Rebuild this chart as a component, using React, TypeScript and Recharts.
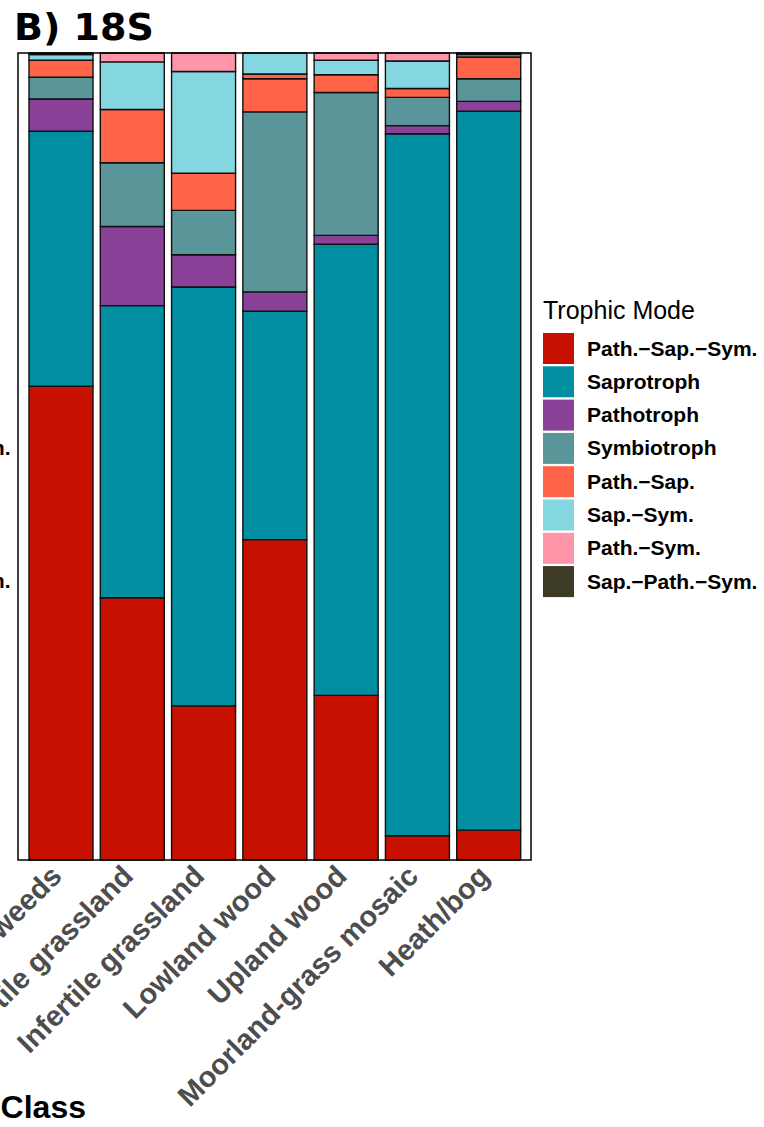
import React from "react";
import { BarChart, Bar, XAxis, YAxis } from "recharts";

// ---- data ----
const categories = [
  "Crops/weeds",
  "Fertile grassland",
  "Infertile grassland",
  "Lowland wood",
  "Upland wood",
  "Moorland-grass mosaic",
  "Heath/bog",
];
const pathSapSym = [0.587, 0.325, 0.191, 0.397, 0.204, 0.03, 0.037];
const saprotroph = [0.316, 0.362, 0.519, 0.283, 0.559, 0.87, 0.891];
const pathotroph = [0.04, 0.098, 0.04, 0.024, 0.011, 0.01, 0.012];
const symbiotroph = [0.027, 0.079, 0.055, 0.223, 0.177, 0.035, 0.028];
const pathSap = [0.021, 0.066, 0.046, 0.041, 0.022, 0.011, 0.027];
const pathSapExtra = [0, 0, 0, 0.006, 0, 0, 0];
const sapSym = [0.007, 0.059, 0.126, 0.026, 0.018, 0.034, 0.003];
const pathSym = [0, 0.011, 0.023, 0, 0.009, 0.01, 0];
const sapPathSym = [0.002, 0, 0, 0, 0, 0, 0.002];

const legendLabels = [
  "Path.\u2212Sap.\u2212Sym.",
  "Saprotroph",
  "Pathotroph",
  "Symbiotroph",
  "Path.\u2212Sap.",
  "Sap.\u2212Sym.",
  "Path.\u2212Sym.",
  "Sap.\u2212Path.\u2212Sym.",
];
const legendColors = [
  "#C71000",
  "#008EA0",
  "#8A4198",
  "#5A9599",
  "#FF6348",
  "#84D7E1",
  "#FF95A8",
  "#3D3B25",
];

// series in stacking order (bottom -> top)
const series = [
  { key: "pss", values: pathSapSym, color: "#C71000" },
  { key: "sap", values: saprotroph, color: "#008EA0" },
  { key: "path", values: pathotroph, color: "#8A4198" },
  { key: "sym", values: symbiotroph, color: "#5A9599" },
  { key: "ps", values: pathSap, color: "#FF6348" },
  { key: "ps2", values: pathSapExtra, color: "#FF6348" },
  { key: "ss", values: sapSym, color: "#84D7E1" },
  { key: "pys", values: pathSym, color: "#FF95A8" },
  { key: "sps", values: sapPathSym, color: "#3D3B25" },
];

const data = categories.map((c, i) => {
  const row: Record<string, any> = { cat: c };
  series.forEach((s) => (row[s.key] = s.values[i]));
  return row;
});

// ---- layout ----
const W = 764;
const H = 1127;
const M = { top: 53, right: 233, bottom: 0, left: 18 };
const XAXIS_H = 267;
const PLOT_W = W - M.left - M.right;
const PLOT_H = H - M.top - M.bottom - XAXIS_H;
const ARIAL = "'Liberation Sans', Arial, sans-serif";
const TICK_SHIFT = 12;

const Tick = (props: any) => {
  const { x, y, payload } = props;
  const ax = x - TICK_SHIFT;
  return (
    <text
      x={ax}
      y={y}
      transform={`rotate(-45 ${ax} ${y})`}
      textAnchor="end"
      dy="0.72em"
      fill="#4D4D4D"
      fontSize={29}
      fontWeight="bold"
      fontFamily={ARIAL}
    >
      {payload.value}
    </text>
  );
};

export default function App() {
  return (
    <div style={{ position: "absolute", left: 0, top: 0, width: W, height: H }}>
      <BarChart width={W} height={H} data={data} margin={M} barSize={64}>
        <XAxis
          dataKey="cat"
          type="category"
          height={XAXIS_H}
          interval={0}
          tickLine={false}
          axisLine={false}
          tickSize={0}
          tickMargin={3}
          padding={{ left: 7, right: 7 }}
          tick={Tick}
        />
        <YAxis type="number" domain={[0, 1]} hide />
        {series.map((s) => (
          <Bar
            key={s.key}
            dataKey={s.key}
            stackId="a"
            fill={s.color}
            stroke="#111"
            strokeWidth={1.4}
            isAnimationActive={false}
          />
        ))}
      </BarChart>
      <svg
        width={W}
        height={H}
        style={{ position: "absolute", left: 0, top: 0, pointerEvents: "none" }}
      >
        <text
          x={14}
          y={40}
          fontFamily="'DejaVu Sans', Verdana, sans-serif"
          fontWeight="bold"
          fontSize={38}
          fill="#000"
        >
          B) 18S
        </text>
        <rect
          x={M.left}
          y={M.top}
          width={PLOT_W}
          height={PLOT_H}
          fill="none"
          stroke="#000"
          strokeWidth={1.5}
        />
        <text x={10.5} y={455} textAnchor="end" fontFamily={ARIAL} fontWeight="bold" fontSize={21} fill="#000">
          Sym.
        </text>
        <text x={10.5} y={588} textAnchor="end" fontFamily={ARIAL} fontWeight="bold" fontSize={21} fill="#000">
          Sym.
        </text>
        <text x={86} y={1118} textAnchor="end" fontFamily={ARIAL} fontWeight="bold" fontSize={32} fill="#000">
          Aggregate Vegetation Class
        </text>
        <text x={543} y={319} fontFamily={ARIAL} fontSize={25} fill="#000">
          Trophic Mode
        </text>
        {legendLabels.map((lab, i) => (
          <g key={lab}>
            <rect x={543} y={333 + i * 33.3} width={31} height={31} fill={legendColors[i]} />
            <text
              x={587}
              y={333 + i * 33.3 + 22.5}
              fontFamily={ARIAL}
              fontWeight="bold"
              fontSize={21}
              fill="#000"
            >
              {lab}
            </text>
          </g>
        ))}
      </svg>
    </div>
  );
}
